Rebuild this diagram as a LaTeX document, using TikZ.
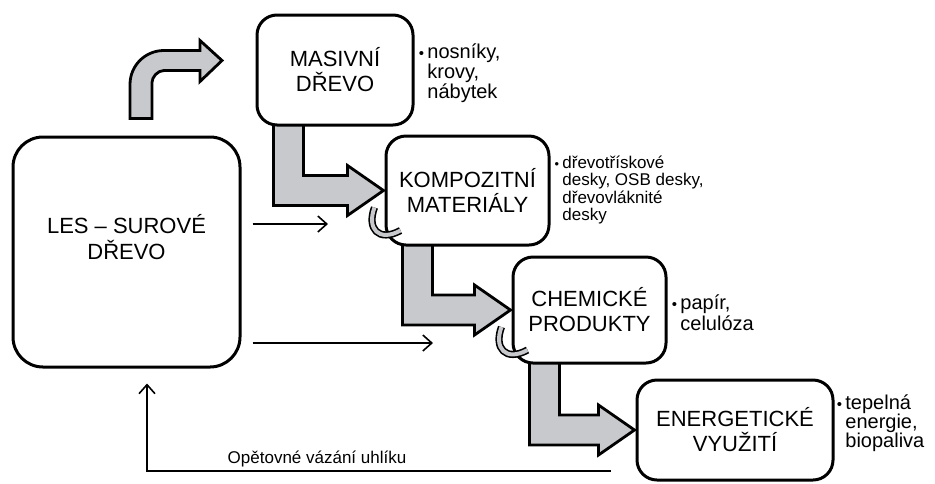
\documentclass[tikz,border=0pt]{standalone}
\usepackage{fontspec}
\setmainfont{Liberation Sans}
\usetikzlibrary{arrows.meta, calc, backgrounds}
\definecolor{arrowgray}{RGB}{200,201,204}

\newcommand{\turn}[2]{%
  \draw[turnarrow] ($(#1.south west)+(18,-2)$) -- ($(#1.south west)+(48,-2)$)
    -- ($(#1.south west |- #2.west)+(48,-15)$) -- ($(#2.west)+(-37,-15)$)
    -- ($(#2.west)+(-37,-25)$) -- ($(#2.west)+(-1,0)$) -- ($(#2.west)+(-37,25)$)
    -- ($(#2.west)+(-37,15)$) -- ($(#1.south west |- #2.west)+(18,15)$) -- cycle;}
\newcommand{\curl}[1]{%
  \draw[curlline] ($(#1.west)+(-10,17)$) .. controls ($(#1.west)+(-18,38)$) and ($(#1.west)+(-6,52)$) .. ($(#1.west)+(16,40)$);}
\newcommand{\bulletmark}{\llap{\scalebox{0.75}{•}\hspace{1.6pt}}}

\begin{document}
\begin{tikzpicture}[x=0.5pt, y=-0.5pt,
  box/.style = {draw, line width=1.5pt, rounded corners=10pt, fill=white, align=center, font=\fontsize{11}{12.5}\selectfont},
  note/.style = {align=left, inner sep=0pt, anchor=west, font=\fontsize{10}{10}\selectfont},
  turnarrow/.style = {draw, line width=1.4pt, fill=arrowgray, line join=miter},
  curlline/.style = {draw=black, double=arrowgray, line width=0.8pt, double distance=2pt},
  flow/.style = {-{Straight Barb[length=4.5pt,width=8pt]}, line width=0.8pt}]
\useasboundingbox (0,0) rectangle (935,483);
\node[box, minimum width=113.5pt, minimum height=115pt, rounded corners=15pt] (les) at (126.5,252) {\begin{tabular}{@{}c@{}}LES – SUROVÉ\\DŘEVO\end{tabular}\rule[-22pt]{0pt}{0pt}};
\node[box, minimum width=78pt, minimum height=55pt] (masiv) at (335,70) {MASIVNÍ\\DŘEVO};
\node[box, minimum width=81.5pt, minimum height=54.5pt] (komp) at (467.5,190.5) {KOMPOZITNÍ\\MATERIÁLY};
\node[box, minimum width=76.5pt, minimum height=53pt] (chem) at (589.5,310) {CHEMICKÉ\\PRODUKTY};
\node[box, minimum width=98pt, minimum height=50pt] (energ) at (735,430) {ENERGETICKÉ\\VYUŽITÍ};

\node[note] (masivnote) at (427,73) {\bulletmark nosníky,\\krovy,\\nábytek};
\node[note, font=\fontsize{8.5}{8.6}\selectfont] (kompnote) at (562,190) {\bulletmark dřevotřískové\\desky, OSB desky,\\dřevovláknité\\desky};
\node[note, font=\fontsize{10}{10.5}\selectfont] (chemnote) at (680,313) {\bulletmark papír,\\celulóza};
\node[note, font=\fontsize{10}{9.5}\selectfont] (energnote) at (845,423) {\bulletmark tepelná\\energie,\\biopaliva};
\node[font=\fontsize{8.5}{10}\selectfont] (carbon) at (317,459) {Opětovné vázání uhlíku};

\coordinate (in1) at (328,224);
\coordinate (in2) at (433,343);
\draw[flow] ($(les.east |- in1)+(11,0)$) -- (in1);
\draw[flow] ($(les.east |- in2)+(11,0)$) -- (in2);
\draw[flow] ($(energ.west |- 0,471)+(-25,0)$) -| ($(les.south)+(20.5,15)$);

\begin{scope}[on background layer]
\turn{masiv}{komp}
\turn{komp}{chem}
\turn{chem}{energ}
\end{scope}
\curl{komp}
\curl{chem}

\begin{scope}[shift={(les.north)}]
\draw[turnarrow] (3.5,-17) -- (3.5,-51) .. controls (3.5,-70) and (18.7,-85) .. (37.5,-85)
  -- (73.5,-85) -- (73.5,-95) -- (95.5,-75) -- (73.5,-54) -- (73.5,-65) -- (37.5,-65)
  .. controls (30.9,-65) and (25.5,-58.4) .. (25.5,-53) -- (25.5,-17) -- cycle;
\end{scope}
\end{tikzpicture}
\end{document}
